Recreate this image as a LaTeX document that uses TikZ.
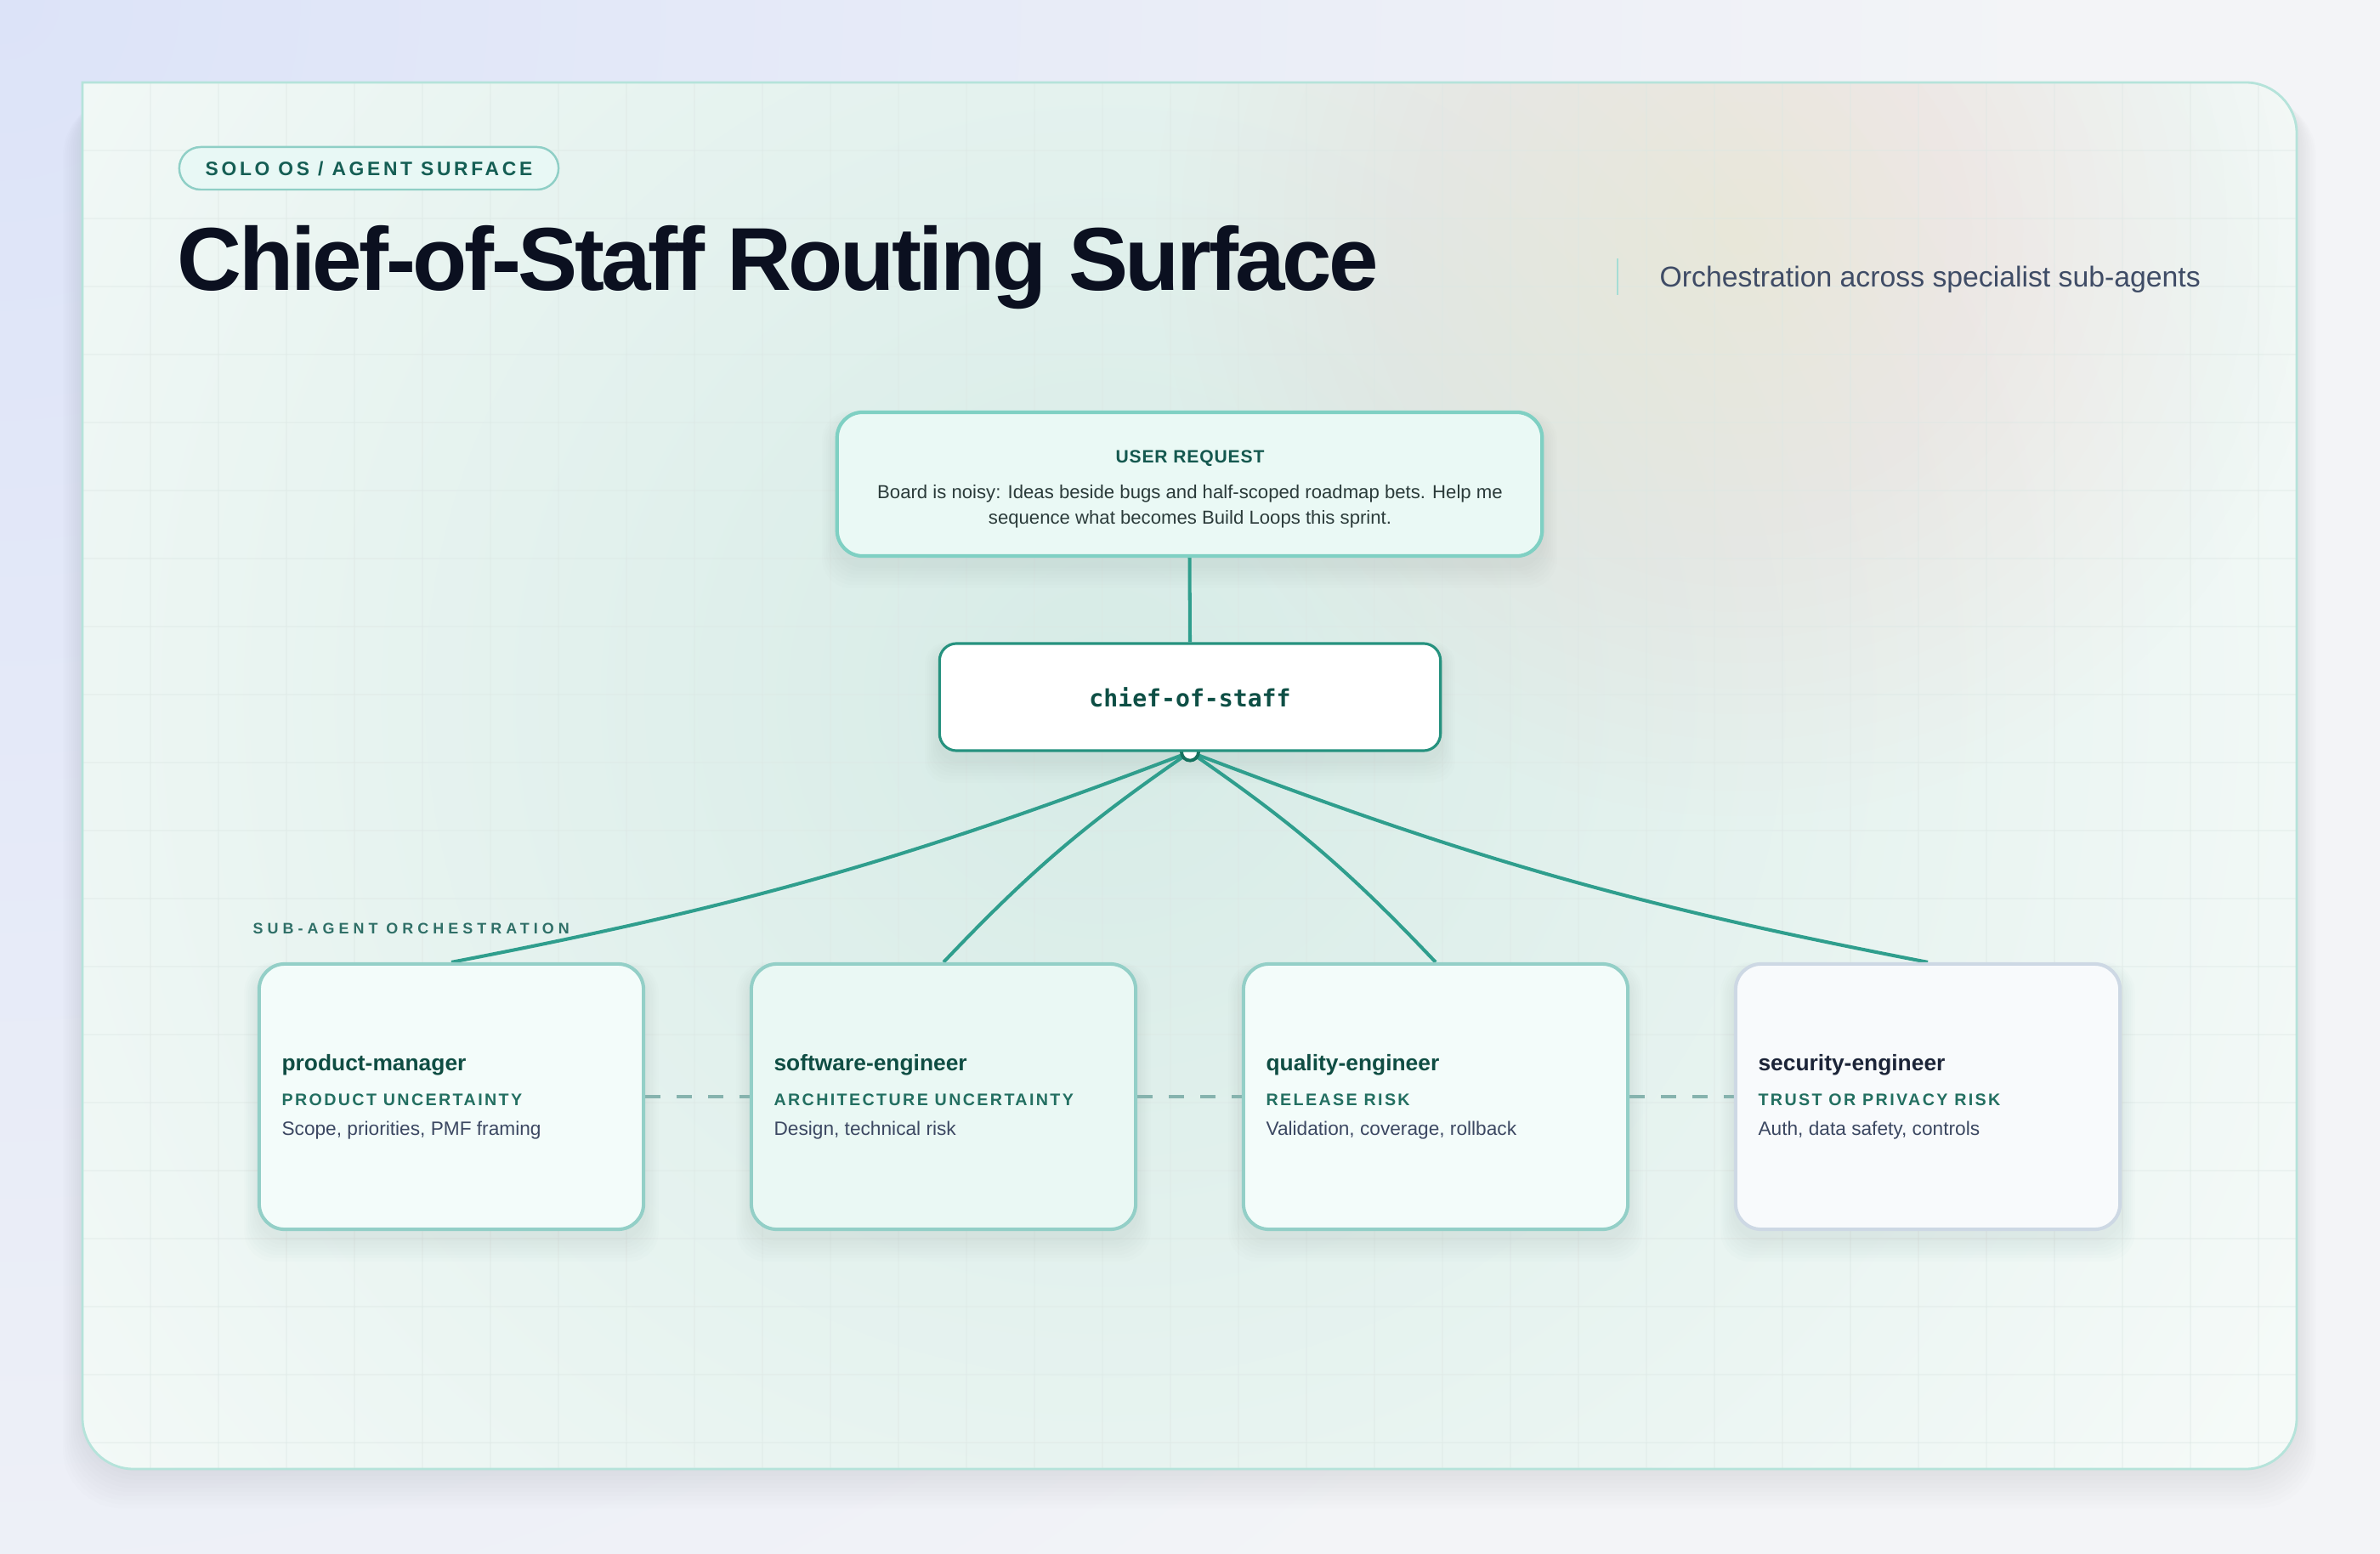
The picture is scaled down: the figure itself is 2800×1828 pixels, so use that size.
\documentclass[tikz,border=0pt]{standalone}
\usepackage{fontspec}
\setmainfont{Liberation Sans}
\newfontfamily\monofont{DejaVu Sans Mono}
\newfontfamily\titlefont{Liberation Sans}[LetterSpace=-3.3]
\newfontfamily\pillfont{Liberation Sans}[LetterSpace=16]
\newfontfamily\subfont{Liberation Sans}[LetterSpace=12]
\newfontfamily\sectionfont{Liberation Sans}[LetterSpace=28]
\newfontfamily\reqfont{Liberation Sans}[LetterSpace=4]
\usetikzlibrary{calc}
\definecolor{pagebg}{HTML}{F3F4F7}
\definecolor{lav}{HTML}{DCE3F8}
\definecolor{cardbase}{HTML}{F5FAF8}
\definecolor{cardline}{HTML}{B5E3DA}
\definecolor{tealglow}{HTML}{D6EBE6}
\definecolor{beigeglow}{HTML}{EDE7D5}
\definecolor{gridc}{HTML}{DCE7E4}
\definecolor{pilledge}{HTML}{8FCFC6}
\definecolor{pillfill}{HTML}{E8F8F5}
\definecolor{pilltext}{HTML}{155E54}
\definecolor{titlec}{HTML}{0B1020}
\definecolor{subc}{HTML}{3F4C66}
\definecolor{barc}{HTML}{A5DDD5}
\definecolor{reqedge}{HTML}{7FD0C3}
\definecolor{reqfill}{HTML}{EAF9F5}
\definecolor{reqtitle}{HTML}{14584F}
\definecolor{bodyc}{HTML}{2B3B3A}
\definecolor{chiefedge}{HTML}{26927F}
\definecolor{chieftext}{HTML}{0E4F45}
\definecolor{connc}{HTML}{2F9E8D}
\definecolor{portc}{HTML}{15725F}
\definecolor{dashc}{HTML}{86B3AE}
\definecolor{cardedge}{HTML}{93CFC7}
\definecolor{secedge}{HTML}{CDD8E4}
\definecolor{pmfill}{HTML}{F3FCFA}
\definecolor{sefill}{HTML}{EAF8F4}
\definecolor{secfill}{HTML}{F8FAFC}
\definecolor{agtitle}{HTML}{0F4D43}
\definecolor{sectitle}{HTML}{1C2438}
\definecolor{agsub}{HTML}{236F61}
\definecolor{agdesc}{HTML}{3C4862}
\definecolor{sectc}{HTML}{2F6F67}
\definecolor{shadowc}{HTML}{3A5A55}
\pgfdeclarelayer{bg}
\pgfdeclarelayer{shadow}
\pgfdeclarelayer{edges}
\pgfsetlayers{bg,shadow,edges,main}
\newcommand{\softshadow}[3]{% node, radius (cm), strength
  \begin{pgfonlayer}{shadow}
  \foreach \s in {2,6,...,26} {
    \fill[shadowc, opacity=#3, rounded corners=#2]
      ($(#1.north west)+(-\s*0.6,-\s*0.3+8)$) rectangle ($(#1.south east)+(\s*0.6,\s+10)$);
  }
  \end{pgfonlayer}
}
\newcommand{\agentcard}[6]{%
  \node[agentbox, #3] (#1) at (#2,1290) {};
  \softshadow{#1}{0.35cm}{0.012}
  \node[cardtitle, text=#4] (#1-t) at ($(#1.north west)+(28,128)$) {#5};
  \node[cardsub] (#1-s) at ($(#1.north west)+(28,169)$) {\MakeUppercase{#6}};
}
\newcommand{\agentdesc}[2]{%
  \node[carddesc] (#1-d) at ($(#1.north west)+(28,204)$) {#2};
}
\begin{document}
\begin{tikzpicture}[x=0.01cm,y=-0.01cm,
  conn/.style={draw=connc, line width=1.15pt},
  dashlink/.style={draw=dashc, line width=1.1pt, dash pattern=on 5.1pt off 5.4pt},
  agentbox/.style={draw=cardedge, fill=pmfill, line width=1.15pt, rounded corners=0.3cm,
    minimum width=4.52cm, minimum height=3.12cm, inner sep=0pt},
  cardtitle/.style={anchor=base west, inner sep=0pt, font=\bfseries\fontsize{7.5}{8}\selectfont},
  cardsub/.style={anchor=base west, inner sep=0pt, text=agsub, font=\subfont\bfseries\fontsize{5.6}{6}\selectfont},
  carddesc/.style={anchor=base west, inner sep=0pt, text=agdesc, font=\fontsize{6.45}{7}\selectfont},
  pill/.style={draw=pilledge, fill=pillfill, line width=0.7pt, rounded corners=0.25cm,
    minimum width=4.46cm, minimum height=0.5cm, inner sep=0pt, text=pilltext,
    font=\pillfont\bfseries\fontsize{6.5}{7}\selectfont},
  reqbox/.style={draw=reqedge, fill=reqfill, line width=1.2pt, rounded corners=0.3cm,
    minimum width=8.29cm, minimum height=1.69cm, inner sep=0pt},
  chiefbox/.style={draw=chiefedge, fill=white, line width=0.9pt, rounded corners=0.2cm,
    minimum width=5.89cm, minimum height=1.26cm, inner sep=0pt, text=chieftext,
    font=\monofont\bfseries\fontsize{8}{9}\selectfont},
  plaintext/.style={inner sep=0pt}
]
\useasboundingbox (0,0) rectangle (2800,1828);

% ---------- background ----------
\begin{pgfonlayer}{bg}
\fill[pagebg] (0,0) rectangle (2800,1828);
\begin{scope}
  \clip (0,0) rectangle (2800,1828);
  \shade[inner color=lav, outer color=pagebg] (0,0) circle[radius=24cm];
  \foreach \s in {4,10,...,60} {
    \fill[shadowc, opacity=0.008, rounded corners=0.7cm]
      (97-\s*0.4,97+\s*0.3) rectangle (2702+\s*0.4,1728+\s*0.8);
  }
\end{scope}
\fill[cardbase]
  (97,97) [rounded corners=0.6cm] -- (2702,97) -- (2702,1728) -- (97,1728) -- (97,97);
\begin{scope}
  \clip (97,97) [rounded corners=0.6cm] -- (2702,97) -- (2702,1728) -- (97,1728) -- (97,97);
  \shade[inner color=tealglow, outer color=cardbase] (1300,820) circle[radius=16cm];
  \foreach \r in {30,60,...,690} {
    \fill[beigeglow, opacity=0.02] (2050,270) circle[radius=\r*0.01cm];
  }
  \begin{scope}[opacity=0.35]
  \foreach \gx in {177,257,...,2700} \draw[gridc, line width=0.5pt] (\gx,97) -- (\gx,1728);
  \foreach \gy in {177,257,...,1728} \draw[gridc, line width=0.5pt] (97,\gy) -- (2702,\gy);
  \end{scope}
\end{scope}
\draw[cardline, line width=0.8pt, line cap=rect]
  (97,97) [rounded corners=0.6cm] -- (2702,97) -- (2702,1728) -- (97,1728) -- (97,97);
\end{pgfonlayer}

% ---------- header ----------
\node[pill] (tag) at (434,198) {SOLO OS / AGENT SURFACE};
\node[plaintext, anchor=base west, text=titlec, font=\titlefont\bfseries\fontsize{29.9}{31}\selectfont]
  (title) at (208,342) {Chief-of-Staff Routing Surface};
\coordinate (bartop) at (1903,304);
\coordinate (barbot) at (1903,347);
\draw[barc, line width=0.6pt] (bartop) -- (barbot);
\node[plaintext, anchor=base west, text=subc, font=\fontsize{9.6}{10}\selectfont]
  (subtitle) at (1952,338) {Orchestration across specialist sub-agents};

% ---------- request + chief ----------
\node[reqbox] (req) at (1399.5,569.5) {};
\softshadow{req}{0.35cm}{0.01}
\node[plaintext, anchor=base, text=reqtitle, font=\reqfont\bfseries\fontsize{6}{7}\selectfont]
  (reqt) at (1400,545) {USER REQUEST};
\node[plaintext, anchor=base, text=bodyc, font=\fontsize{6.3}{8}\selectfont]
  (reqb1) at (1400,587) {Board is noisy: Ideas beside bugs and half-scoped roadmap bets. Help me};
\node[plaintext, anchor=base, text=bodyc, font=\fontsize{6.3}{8}\selectfont]
  (reqb2) at (1400,617) {sequence what becomes Build Loops this sprint.};
\node[chiefbox] (chief) at (1400,820) {chief-of-staff};
\softshadow{chief}{0.25cm}{0.012}

% ---------- sub-agents ----------
\node[plaintext, anchor=base west, text=sectc, font=\sectionfont\bfseries\fontsize{5.1}{6}\selectfont]
  (seclabel) at (297,1098) {SUB-AGENT ORCHESTRATION};

\agentcard{pm}{531}{fill=pmfill}{agtitle}{product-manager}{Product uncertainty}
\agentdesc{pm}{Scope, priorities, PMF framing}
\agentcard{se}{1110}{fill=sefill}{agtitle}{software-engineer}{Architecture uncertainty}
\agentdesc{se}{Design, technical risk}
\agentcard{qe}{1689}{fill=pmfill}{agtitle}{quality-engineer}{Release risk}
\agentdesc{qe}{Validation, coverage, rollback}
\agentcard{sec}{2268}{fill=secfill, draw=secedge}{sectitle}{security-engineer}{Trust or privacy risk}
\agentdesc{sec}{Auth, data safety, controls}

% ---------- connectors ----------
\begin{pgfonlayer}{edges}
\draw[conn] (req.south) -- (chief.north);
\draw[conn] (chief.south) to[bend left=5] (pm.north);
\draw[conn] (chief.south) to[bend right=6] (se.north);
\draw[conn] (chief.south) to[bend left=6] (qe.north);
\draw[conn] (chief.south) to[bend right=5] (sec.north);
\draw[portc, line width=1.1pt, fill=white] (chief.south) circle[radius=0.1cm];
\draw[dashlink] (pm.east) -- (se.west);
\draw[dashlink] (se.east) -- (qe.west);
\draw[dashlink] (qe.east) -- (sec.west);
\end{pgfonlayer}
\end{tikzpicture}
\end{document}
